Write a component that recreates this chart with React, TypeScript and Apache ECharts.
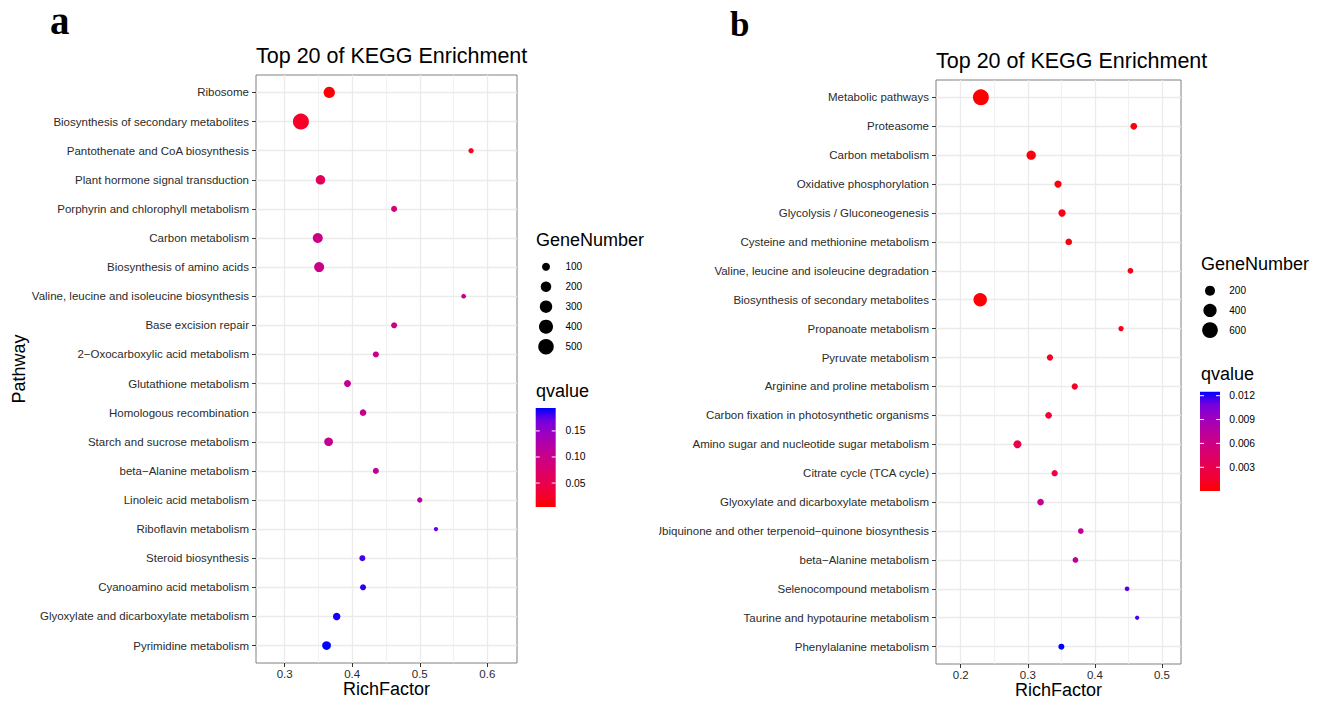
import React, { useEffect, useRef } from "react";
import * as echarts from "echarts";

// ---------------- Panel a data ----------------
const pathwaysA = [
  "Ribosome",
  "Biosynthesis of secondary metabolites",
  "Pantothenate and CoA biosynthesis",
  "Plant hormone signal transduction",
  "Porphyrin and chlorophyll metabolism",
  "Carbon metabolism",
  "Biosynthesis of amino acids",
  "Valine, leucine and isoleucine biosynthesis",
  "Base excision repair",
  "2\u2212Oxocarboxylic acid metabolism",
  "Glutathione metabolism",
  "Homologous recombination",
  "Starch and sucrose metabolism",
  "beta\u2212Alanine metabolism",
  "Linoleic acid metabolism",
  "Riboflavin metabolism",
  "Steroid biosynthesis",
  "Cyanoamino acid metabolism",
  "Glyoxylate and dicarboxylate metabolism",
  "Pyrimidine metabolism",
];
const richFactorA = [0.366, 0.324, 0.576, 0.353, 0.462, 0.349, 0.351, 0.565, 0.462, 0.435, 0.393, 0.416, 0.365, 0.435, 0.5, 0.524, 0.415, 0.416, 0.377, 0.362];
const geneNumberA = [238, 540, 31, 155, 45, 177, 177, 21, 45, 45, 70, 57, 124, 45, 31, 15, 45, 45, 84, 124];
const qvalueA = [0.005, 0.023, 0.019, 0.06, 0.084, 0.095, 0.097, 0.1, 0.097, 0.1, 0.105, 0.106, 0.103, 0.11, 0.12, 0.172, 0.18, 0.185, 0.19, 0.194];
const xTicksA = [0.3, 0.4, 0.5, 0.6];
const xMinorA = [0.35, 0.45, 0.55];
const xLimitsA = [0.2575, 0.644];
const sizeBreaksA = [100, 200, 300, 400, 500];
const qBreaksA = [0.05, 0.1, 0.15];
const qLimitsA = [0.004, 0.194];

// ---------------- Panel b data ----------------
const pathwaysB = [
  "Metabolic pathways",
  "Proteasome",
  "Carbon metabolism",
  "Oxidative phosphorylation",
  "Glycolysis / Gluconeogenesis",
  "Cysteine and methionine metabolism",
  "Valine, leucine and isoleucine degradation",
  "Biosynthesis of secondary metabolites",
  "Propanoate metabolism",
  "Pyruvate metabolism",
  "Arginine and proline metabolism",
  "Carbon fixation in photosynthetic organisms",
  "Amino sugar and nucleotide sugar metabolism",
  "Citrate cycle (TCA cycle)",
  "Glyoxylate and dicarboxylate metabolism",
  "Ubiquinone and other terpenoid\u2212quinone biosynthesis",
  "beta\u2212Alanine metabolism",
  "Selenocompound metabolism",
  "Taurine and hypotaurine metabolism",
  "Phenylalanine metabolism",
];
const richFactorB = [0.23, 0.458, 0.305, 0.345, 0.351, 0.361, 0.453, 0.229, 0.439, 0.333, 0.37, 0.331, 0.2845, 0.34, 0.319, 0.379, 0.371, 0.448, 0.463, 0.35];
const geneNumberB = [626, 66, 166, 86, 86, 66, 40, 420, 31, 55, 55, 66, 110, 55, 66, 40, 40, 20, 14, 47];
const qvalueB = [0.00005, 0.0003, 0.0004, 0.0005, 0.0006, 0.0007, 0.0008, 0.0002, 0.0009, 0.001, 0.0012, 0.0015, 0.0028, 0.0024, 0.0065, 0.007, 0.0073, 0.0113, 0.0116, 0.0125];
const xTicksB = [0.2, 0.3, 0.4, 0.5];
const xMinorB = [0.25, 0.35, 0.45];
const xLimitsB = [0.1631, 0.5284];
const sizeBreaksB = [200, 400, 600];
const qBreaksB = [0.003, 0.006, 0.009, 0.012];
const qLimitsB = [0.00002, 0.0125];

// red -> blue gradient (Lab interpolated stops)
const gradientStops = ["#FF0000", "#F40031", "#E8004F", "#DA006C", "#CA0089", "#B500A5", "#9A00C3", "#7300E0", "#0000FF"];

const FONT = '"Liberation Sans", Arial, Helvetica, sans-serif';
const SERIF = '"Liberation Serif", "Times New Roman", serif';
const LABEL_COLOR = "#2b2b2b";

const sizeA = (n: number) => 1.93 + 0.607 * Math.sqrt(n);
const sizeB = (n: number) => 2.21 + 0.551 * Math.sqrt(n);

function fmtQ(v: number) {
  const s = String(v);
  return s === "0.1" ? "0.10" : s;
}

function xAxesFor(gridIndex: number, limits: number[], ticks: number[], minor: number[]) {
  return [
    {
      type: "value",
      gridIndex,
      min: limits[0],
      max: limits[1],
      position: "bottom",
      axisLine: { show: false, onZero: false },
      axisTick: { show: true, length: 4, customValues: ticks, lineStyle: { color: "#333333", width: 1 } },
      axisLabel: { customValues: ticks, color: LABEL_COLOR, fontSize: 11.5, fontFamily: FONT, margin: 5 },
      splitLine: { show: true, lineStyle: { color: "#ebebeb", width: 1.3 } },
      name: "RichFactor",
      nameLocation: "middle",
      nameGap: 17,
      nameMoveOverlap: false,
      nameTextStyle: { fontSize: 18, color: "#000", fontFamily: FONT },
    },
    {
      type: "value",
      gridIndex,
      min: limits[0],
      max: limits[1],
      position: "bottom",
      axisLine: { show: false, onZero: false },
      axisTick: { show: false, customValues: minor },
      axisLabel: { show: false, customValues: minor },
      splitLine: { show: true, lineStyle: { color: "#ededed", width: 0.8 } },
    },
  ];
}

function yAxisFor(gridIndex: number, cats: string[], name: string) {
  const n = cats.length;
  const vals = cats.map((_, i) => n - i);
  return {
    type: "value",
    gridIndex,
    min: 0.4,
    max: n + 0.6,
    axisLine: { show: false, onZero: false },
    axisTick: { show: true, length: 4, customValues: vals, lineStyle: { color: "#333333", width: 1 } },
    axisLabel: {
      customValues: vals,
      formatter: (v: number) => cats[n - Math.round(v)],
      color: LABEL_COLOR,
      fontSize: 11.5,
      fontFamily: FONT,
      margin: 7,
    },
    splitLine: { show: true, lineStyle: { color: "#ebebeb", width: 1.3 } },
    name,
    nameLocation: "middle",
    nameGap: 228,
    nameMoveOverlap: false,
    nameTextStyle: { fontSize: 18, color: "#000", fontFamily: FONT },
  };
}

function legendGraphics(opts: {
  x0: number;
  geneTitleY: number;
  circleX: number;
  circleY0: number;
  circleStep: number;
  labelX: number;
  breaks: number[];
  sizeFn: (n: number) => number;
  qTitleY: number;
  barX: number;
  barTop: number;
  barBottom: number;
  qBreaks: number[];
  qLimits: number[];
}) {
  const els: any[] = [];
  els.push({
    type: "text",
    x: opts.x0,
    y: opts.geneTitleY,
    style: { text: "GeneNumber", font: `18px ${FONT}`, fill: "#000", verticalAlign: "middle", align: "left" },
  });
  opts.breaks.forEach((b, i) => {
    const cy = opts.circleY0 + i * opts.circleStep;
    els.push({ type: "circle", shape: { cx: opts.circleX, cy, r: opts.sizeFn(b) / 2 }, style: { fill: "#000" } });
    els.push({
      type: "text",
      x: opts.labelX,
      y: cy,
      style: { text: String(b), font: `10px ${FONT}`, fill: "#000", verticalAlign: "middle", align: "left" },
    });
  });
  els.push({
    type: "text",
    x: opts.x0,
    y: opts.qTitleY,
    style: { text: "qvalue", font: `18px ${FONT}`, fill: "#000", verticalAlign: "middle", align: "left" },
  });
  const barW = 20;
  const barH = opts.barBottom - opts.barTop;
  els.push({
    type: "rect",
    shape: { x: opts.barX, y: opts.barTop, width: barW, height: barH },
    style: {
      fill: new echarts.graphic.LinearGradient(
        0,
        1,
        0,
        0,
        gradientStops.map((c, i) => ({ offset: i / (gradientStops.length - 1), color: c }))
      ),
    },
  });
  opts.qBreaks.forEach((q) => {
    const y = opts.barBottom - ((q - opts.qLimits[0]) / (opts.qLimits[1] - opts.qLimits[0])) * barH;
    els.push({ type: "line", shape: { x1: opts.barX, y1: y, x2: opts.barX + 4, y2: y }, style: { stroke: "#ffffff", lineWidth: 1 } });
    els.push({
      type: "line",
      shape: { x1: opts.barX + barW - 4, y1: y, x2: opts.barX + barW, y2: y },
      style: { stroke: "#ffffff", lineWidth: 1 },
    });
    els.push({
      type: "text",
      x: opts.labelX,
      y,
      style: { text: fmtQ(q), font: `10.3px ${FONT}`, fill: "#000", verticalAlign: "middle", align: "left" },
    });
  });
  return els;
}

export default function App() {
  const ref = useRef<HTMLDivElement>(null);

  useEffect(() => {
    if (!ref.current) return;
    const chart = echarts.init(ref.current, null, { renderer: "svg" });

    const nA = pathwaysA.length;
    const nB = pathwaysB.length;
    const dataA = pathwaysA.map((p, i) => [richFactorA[i], nA - i, geneNumberA[i], qvalueA[i], p]);
    const dataB = pathwaysB.map((p, i) => [richFactorB[i], nB - i, geneNumberB[i], qvalueB[i], p]);

    const option: any = {
      animation: false,
      backgroundColor: "#ffffff",
      title: [
        {
          text: "Top 20 of KEGG Enrichment",
          left: 256,
          top: 45,
          padding: 0,
          textStyle: { fontSize: 21.5, fontWeight: "normal", color: "#000", fontFamily: FONT },
        },
        {
          text: "Top 20 of KEGG Enrichment",
          left: 936,
          top: 50,
          padding: 0,
          textStyle: { fontSize: 21.5, fontWeight: "normal", color: "#000", fontFamily: FONT },
        },
        {
          text: "a",
          left: 50,
          top: 1,
          padding: 0,
          textStyle: { fontSize: 39, fontWeight: "bold", color: "#000", fontFamily: SERIF },
        },
        {
          text: "b",
          left: 730,
          top: 7,
          padding: 0,
          textStyle: { fontSize: 35, fontWeight: "bold", color: "#000", fontFamily: SERIF },
        },
      ],
      grid: [
        {
          left: 256,
          top: 75,
          width: 261,
          height: 588,
          show: true,
          borderColor: "#808080",
          borderWidth: 1,
          backgroundColor: "#fff",
          containLabel: false,
          outerBoundsMode: "none",
        },
        {
          left: 936,
          top: 80,
          width: 245,
          height: 584,
          show: true,
          borderColor: "#808080",
          borderWidth: 1,
          backgroundColor: "#fff",
          containLabel: false,
          outerBoundsMode: "none",
        },
      ],
      xAxis: [...xAxesFor(0, xLimitsA, xTicksA, xMinorA), ...xAxesFor(1, xLimitsB, xTicksB, xMinorB)],
      yAxis: [yAxisFor(0, pathwaysA, "Pathway"), yAxisFor(1, pathwaysB, "")],
      visualMap: [
        {
          type: "continuous",
          show: false,
          seriesIndex: 0,
          dimension: 3,
          min: qLimitsA[0],
          max: qLimitsA[1],
          inRange: { color: gradientStops },
        },
        {
          type: "continuous",
          show: false,
          seriesIndex: 1,
          dimension: 3,
          min: qLimitsB[0],
          max: qLimitsB[1],
          inRange: { color: gradientStops },
        },
      ],
      series: [
        {
          type: "scatter",
          xAxisIndex: 0,
          yAxisIndex: 0,
          data: dataA,
          symbolSize: (v: any[]) => sizeA(v[2]),
          itemStyle: { opacity: 1 },
          silent: true,
          z: 5,
        },
        {
          type: "scatter",
          xAxisIndex: 2,
          yAxisIndex: 1,
          data: dataB,
          symbolSize: (v: any[]) => sizeB(v[2]),
          itemStyle: { opacity: 1 },
          silent: true,
          z: 5,
        },
      ],
      graphic: [
        ...legendGraphics({
          x0: 536,
          geneTitleY: 239.5,
          circleX: 546,
          circleY0: 266.7,
          circleStep: 20,
          labelX: 565.5,
          breaks: sizeBreaksA,
          sizeFn: sizeA,
          qTitleY: 390.5,
          barX: 535.7,
          barTop: 408,
          barBottom: 507,
          qBreaks: qBreaksA,
          qLimits: qLimitsA,
        }),
        ...legendGraphics({
          x0: 1201,
          geneTitleY: 263.8,
          circleX: 1210,
          circleY0: 290.7,
          circleStep: 19.7,
          labelX: 1229.3,
          breaks: sizeBreaksB,
          sizeFn: sizeB,
          qTitleY: 373.8,
          barX: 1200,
          barTop: 391.7,
          barBottom: 491,
          qBreaks: qBreaksB,
          qLimits: qLimitsB,
        }),
        {
          type: "rect",
          z: 100,
          shape: { x: 600, y: 522, width: 59, height: 20 },
          style: { fill: "#ffffff" },
        },
      ],
    };

    chart.setOption(option);
    return () => chart.dispose();
  }, []);

  return (
    <div
      ref={ref}
      style={{ position: "fixed", left: 0, top: 0, width: 1321, height: 702, background: "#fff" }}
    />
  );
}
